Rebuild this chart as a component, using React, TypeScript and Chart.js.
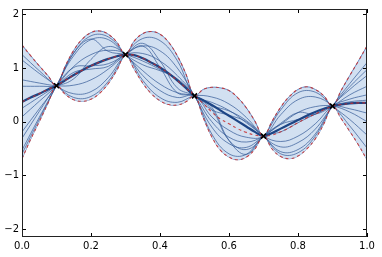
import React, { useEffect, useRef } from 'react';
import { Chart, registerables } from 'chart.js';
Chart.register(...registerables);

const xFine = [0, 0.025, 0.05, 0.075, 0.1, 0.125, 0.15, 0.175, 0.2, 0.225, 0.25, 0.275, 0.3, 0.325, 0.35, 0.375, 0.4, 0.425, 0.45, 0.475, 0.5, 0.525, 0.55, 0.575, 0.6, 0.625, 0.65, 0.675, 0.7, 0.725, 0.75, 0.775, 0.8, 0.825, 0.85, 0.875, 0.9, 0.925, 0.95, 0.975, 1.0];
const xCoarse = [0, 0.05, 0.1, 0.15, 0.2, 0.25, 0.3, 0.35, 0.4, 0.45, 0.5, 0.55, 0.6, 0.65, 0.7, 0.75, 0.8, 0.85, 0.9, 0.95, 1.0];

const posteriorMean = [0.37, 0.45, 0.52, 0.60, 0.67, 0.77, 0.87, 0.96, 1.04, 1.11, 1.17, 1.22, 1.25, 1.24, 1.18, 1.10, 1.01, 0.90, 0.77, 0.63, 0.48, 0.34, 0.18, 0.05, -0.04, -0.13, -0.20, -0.25, -0.27, -0.25, -0.19, -0.11, -0.02, 0.07, 0.14, 0.22, 0.29, 0.32, 0.34, 0.35, 0.35];
const thickCurve = [0.37, 0.45, 0.52, 0.60, 0.67, 0.77, 0.87, 0.96, 1.04, 1.11, 1.17, 1.22, 1.25, 1.24, 1.18, 1.10, 1.01, 0.90, 0.77, 0.63, 0.48, 0.40, 0.31, 0.21, 0.11, 0.01, -0.09, -0.19, -0.27, -0.21, -0.13, -0.05, 0.03, 0.11, 0.18, 0.24, 0.29, 0.32, 0.34, 0.35, 0.35];
const upperBound = [1.43, 1.23, 1.04, 0.86, 0.67, 1.03, 1.33, 1.54, 1.66, 1.69, 1.63, 1.48, 1.25, 1.50, 1.64, 1.68, 1.63, 1.48, 1.23, 0.89, 0.48, 0.60, 0.64, 0.63, 0.58, 0.45, 0.26, 0.01, -0.27, 0.01, 0.27, 0.47, 0.60, 0.65, 0.60, 0.48, 0.29, 0.58, 0.86, 1.13, 1.41];
const lowerBound = [-0.69, -0.33, 0.00, 0.34, 0.67, 0.51, 0.41, 0.38, 0.42, 0.53, 0.71, 0.96, 1.25, 0.98, 0.72, 0.52, 0.39, 0.32, 0.31, 0.37, 0.48, 0.08, -0.28, -0.53, -0.66, -0.71, -0.66, -0.51, -0.27, -0.51, -0.65, -0.69, -0.64, -0.51, -0.32, -0.04, 0.29, 0.06, -0.18, -0.43, -0.71];

const sample1 = [1.25, 0.95, 0.67, 0.52, 0.56, 0.82, 1.25, 1.41, 1.32, 1.00, 0.48, -0.10, -0.41, -0.48, -0.27, -0.05, 0.17, 0.28, 0.29, 0.18, 0.00];
const sample2 = [1.15, 0.90, 0.67, 0.45, 0.47, 0.75, 1.25, 1.55, 1.51, 1.14, 0.48, 0.36, 0.21, -0.02, -0.27, -0.56, -0.52, -0.23, 0.29, 0.60, 0.86];
const sample3 = [0.78, 0.72, 0.67, 0.68, 0.78, 0.98, 1.25, 1.46, 1.13, 0.63, 0.48, 0.22, 0.12, 0.00, -0.27, -0.37, -0.27, -0.04, 0.29, 0.42, 0.50];
const sample4 = [0.66, 0.66, 0.67, 0.80, 1.16, 1.40, 1.25, 0.86, 0.58, 0.45, 0.48, 0.09, -0.16, -0.29, -0.27, 0.13, 0.41, 0.46, 0.29, -0.08, -0.49];
const sample5 = [0.25, 0.46, 0.67, 0.92, 0.98, 1.03, 1.25, 1.27, 1.13, 0.86, 0.48, -0.23, -0.60, -0.61, -0.27, -0.19, -0.02, 0.14, 0.29, 0.37, 0.40];
const sample6 = [0.09, 0.38, 0.67, 1.03, 1.25, 1.33, 1.25, 0.77, 0.45, 0.36, 0.48, 0.46, 0.33, 0.08, -0.27, -0.47, -0.39, -0.14, 0.29, 0.65, 0.97];
const sample7 = [-0.19, 0.24, 0.67, 1.28, 1.54, 1.31, 1.25, 1.13, 0.97, 0.78, 0.48, 0.23, -0.35, -0.52, -0.27, 0.22, 0.54, 0.55, 0.29, 0.04, -0.25];
const sample8 = [-0.31, 0.19, 0.67, 1.01, 1.04, 1.08, 1.25, 1.41, 1.01, 0.54, 0.48, 0.27, -0.35, -0.61, -0.27, -0.05, 0.04, 0.14, 0.29, 0.24, 0.16];
const sample9 = [-0.53, 0.08, 0.67, 1.28, 1.60, 1.58, 1.25, 0.95, 0.70, 0.54, 0.48, 0.30, 0.20, 0.02, -0.27, -0.60, -0.58, -0.27, 0.29, 0.71, 1.10];
const sample10 = [-0.60, 0.04, 0.67, 1.23, 1.53, 1.53, 1.25, 1.06, 0.95, 0.80, 0.48, 0.00, -0.29, -0.38, -0.27, -0.03, 0.17, 0.14, 0.29, 0.50, 0.66];
const samples = [sample1, sample2, sample3, sample4, sample5, sample6, sample7, sample8, sample9, sample10];

const obsX = [0.1, 0.3, 0.5, 0.7, 0.9];
const obsY = [0.67, 1.25, 0.48, -0.27, 0.29];

const xTicks = [0, 0.2, 0.4, 0.6, 0.8, 1.0];
const yTicks = [-2, -1, 0, 1, 2];

const pts = (xs: number[], ys: number[]) => xs.map((x, i) => ({ x, y: ys[i] }));

const framePlugin = {
  id: 'frame',
  afterDatasetsDraw(chart: any) {
    const { ctx, chartArea, scales } = chart;
    const { left, right, top, bottom } = chartArea;
    ctx.save();
    ctx.strokeStyle = '#000';
    ctx.lineWidth = 1;
    ctx.beginPath();
    for (const v of xTicks) {
      const px = Math.round(scales.x.getPixelForValue(v)) + 0.5;
      ctx.moveTo(px, bottom); ctx.lineTo(px, bottom - 4);
      ctx.moveTo(px, top); ctx.lineTo(px, top + 4);
    }
    for (const v of yTicks) {
      const py = Math.round(scales.y.getPixelForValue(v)) + 0.5;
      ctx.moveTo(left, py); ctx.lineTo(left + 4, py);
      ctx.moveTo(right, py); ctx.lineTo(right - 4, py);
    }
    ctx.stroke();
    ctx.strokeStyle = '#222';
    ctx.strokeRect(left + 0.5, top + 0.5, right - left - 1, bottom - top - 1);
    ctx.restore();
  },
};

export default function App() {
  const ref = useRef<HTMLCanvasElement | null>(null);
  useEffect(() => {
    document.body.style.margin = '0';
    const canvas = ref.current!;
    const sampleSets = samples.map((s) => ({
      data: pts(xCoarse, s),
      borderColor: 'rgba(50,88,150,0.7)',
      borderWidth: 1,
      pointRadius: 0,
      tension: 0.4,
      fill: false,
      order: 3,
    }));
    const red = 'rgba(200,45,45,0.85)';
    const chart = new Chart(canvas, {
      type: 'line',
      data: {
        datasets: [
          {
            data: pts(obsX, obsY),
            showLine: false,
            pointStyle: 'crossRot',
            pointRadius: 3.5,
            borderColor: '#000',
            borderWidth: 1.6,
            order: 0,
          } as any,
          { data: pts(xFine, posteriorMean), borderColor: red, borderDash: [3, 3], borderWidth: 1.1, pointRadius: 0, tension: 0.4, fill: false, order: 1 },
          { data: pts(xFine, upperBound), borderColor: red, borderDash: [3, 3], borderWidth: 1.1, pointRadius: 0, tension: 0.4, fill: false, order: 1 },
          { data: pts(xFine, lowerBound), borderColor: red, borderDash: [3, 3], borderWidth: 1.1, pointRadius: 0, tension: 0.4, fill: false, order: 1 },
          { data: pts(xFine, thickCurve), borderColor: '#1d4585', borderWidth: 2.2, pointRadius: 0, tension: 0.4, fill: false, order: 2 },
          ...sampleSets,
          { data: pts(xFine, upperBound), borderColor: 'rgba(90,130,190,0.9)', borderWidth: 1, backgroundColor: 'rgb(210,224,241)', pointRadius: 0, tension: 0.4, fill: '+1', order: 5 },
          { data: pts(xFine, lowerBound), borderColor: 'rgba(90,130,190,0.9)', borderWidth: 1, pointRadius: 0, tension: 0.4, fill: false, order: 5 },
        ],
      },
      options: {
        animation: false,
        responsive: false,
        events: [],
        layout: { padding: { top: 9, right: 15, left: 0, bottom: 0 } },
        plugins: { legend: { display: false }, tooltip: { enabled: false } },
        scales: {
          x: {
            type: 'linear',
            min: 0,
            max: 1,
            afterBuildTicks: (s: any) => { s.ticks = xTicks.map((v) => ({ value: v })); },
            afterFit: (s: any) => { s.height = 20; },
            grid: { display: false, drawTicks: false },
            border: { display: false },
            ticks: {
              padding: 3,
              color: '#000',
              font: { family: 'DejaVu Sans', size: 10 },
              callback: (v: any) => Number(v).toFixed(1),
              maxRotation: 0,
            },
          },
          y: {
            type: 'linear',
            min: -2.15,
            max: 2.1,
            afterBuildTicks: (s: any) => { s.ticks = yTicks.map((v) => ({ value: v })); },
            afterFit: (s: any) => { s.width = 22; },
            grid: { display: false, drawTicks: false },
            border: { display: false },
            ticks: {
              padding: 3,
              color: '#000',
              font: { family: 'DejaVu Sans', size: 10 },
              callback: (v: any) => (Number(v) < 0 ? '\u2212' + Math.abs(Number(v)) : String(v)),
            },
          },
        },
      },
      plugins: [framePlugin],
    } as any);
    return () => chart.destroy();
  }, []);
  return (
    <div style={{ position: 'absolute', left: 0, top: 0 }}>
      <canvas ref={ref} width={382} height={257} style={{ display: 'block', width: 382, height: 257 }} />
    </div>
  );
}
